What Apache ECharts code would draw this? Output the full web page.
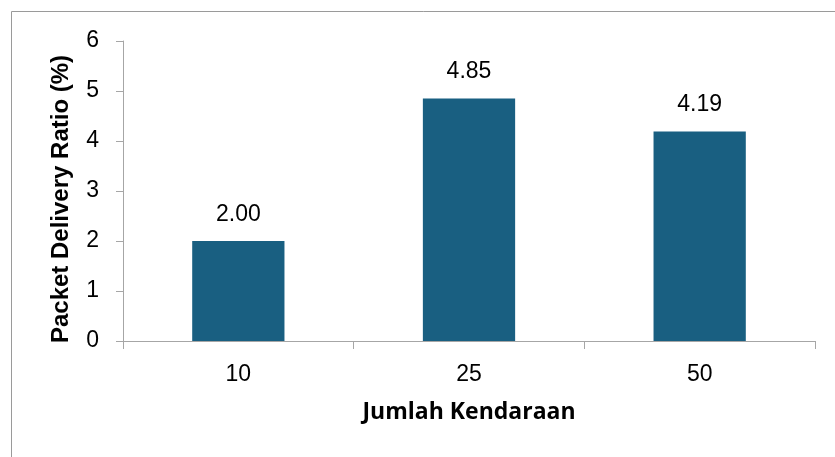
<!DOCTYPE html>
<html>
<head>
<meta charset="utf-8">
<script src="https://cdn.jsdelivr.net/npm/echarts@6/dist/echarts.min.js"></script>
<style>
  html, body { margin: 0; padding: 0; background: #fff; }
  #chart { width: 835px; height: 457px; }
</style>
</head>
<body>
<div id="chart"></div>
<script>
// Packet delivery ratio by number of vehicles
const vehicleCounts = ['10', '25', '50'];
const pdrValues = [2.00, 4.85, 4.19];
const yTicks = [0, 1, 2, 3, 4, 5, 6];

const chart = echarts.init(document.getElementById('chart'), null, { renderer: 'canvas' });

const axisGray = '#a6a6a6';
const tickFont = '"Liberation Sans", Arial, sans-serif';

chart.setOption({
  animation: false,
  backgroundColor: '#ffffff',
  graphic: [{
    type: 'rect',
    shape: { x: 11.5, y: 11.5, width: 900, height: 600 },
    style: { fill: 'none', stroke: '#9a9a9a', lineWidth: 1 },
    silent: true
  }, {
    type: 'text',
    x: 61,
    y: 199,
    rotation: Math.PI / 2,
    style: {
      text: 'Packet Delivery Ratio (%)',
      font: 'bold 24px "Liberation Sans", Arial, sans-serif',
      fill: '#000',
      align: 'center',
      verticalAlign: 'middle'
    },
    silent: true
  }],
  grid: { left: 123, right: 20, top: 41, bottom: 116, containLabel: false },
  xAxis: {
    type: 'category',
    data: vehicleCounts,
    name: 'Jumlah Kendaraan',
    nameLocation: 'middle',
    nameGap: 60,
    nameTextStyle: { fontFamily: '"Open Sans", Lato, sans-serif', fontWeight: 'bold', fontSize: 23, color: '#000' },
    axisLine: { lineStyle: { color: axisGray, width: 1 } },
    axisTick: { show: true, length: 8, lineStyle: { color: axisGray } },
    axisLabel: { margin: 22, fontFamily: tickFont, fontSize: 23, color: '#000' }
  },
  yAxis: {
    type: 'value',
    min: yTicks[0],
    max: yTicks[yTicks.length - 1],
    interval: 1,
    splitLine: { show: false },
    axisLine: { show: true, lineStyle: { color: axisGray, width: 1 } },
    axisTick: { show: true, length: 7, lineStyle: { color: axisGray } },
    axisLabel: { margin: 24, fontFamily: tickFont, fontSize: 23, color: '#000' }
  },
  series: [{
    type: 'bar',
    data: pdrValues,
    barWidth: '40%',
    itemStyle: { color: '#195f81' },
    label: {
      show: true,
      position: 'top',
      distance: 15,
      formatter: p => p.value.toFixed(2),
      fontFamily: tickFont,
      fontSize: 23,
      color: '#000'
    }
  }]
});
</script>
</body>
</html>
